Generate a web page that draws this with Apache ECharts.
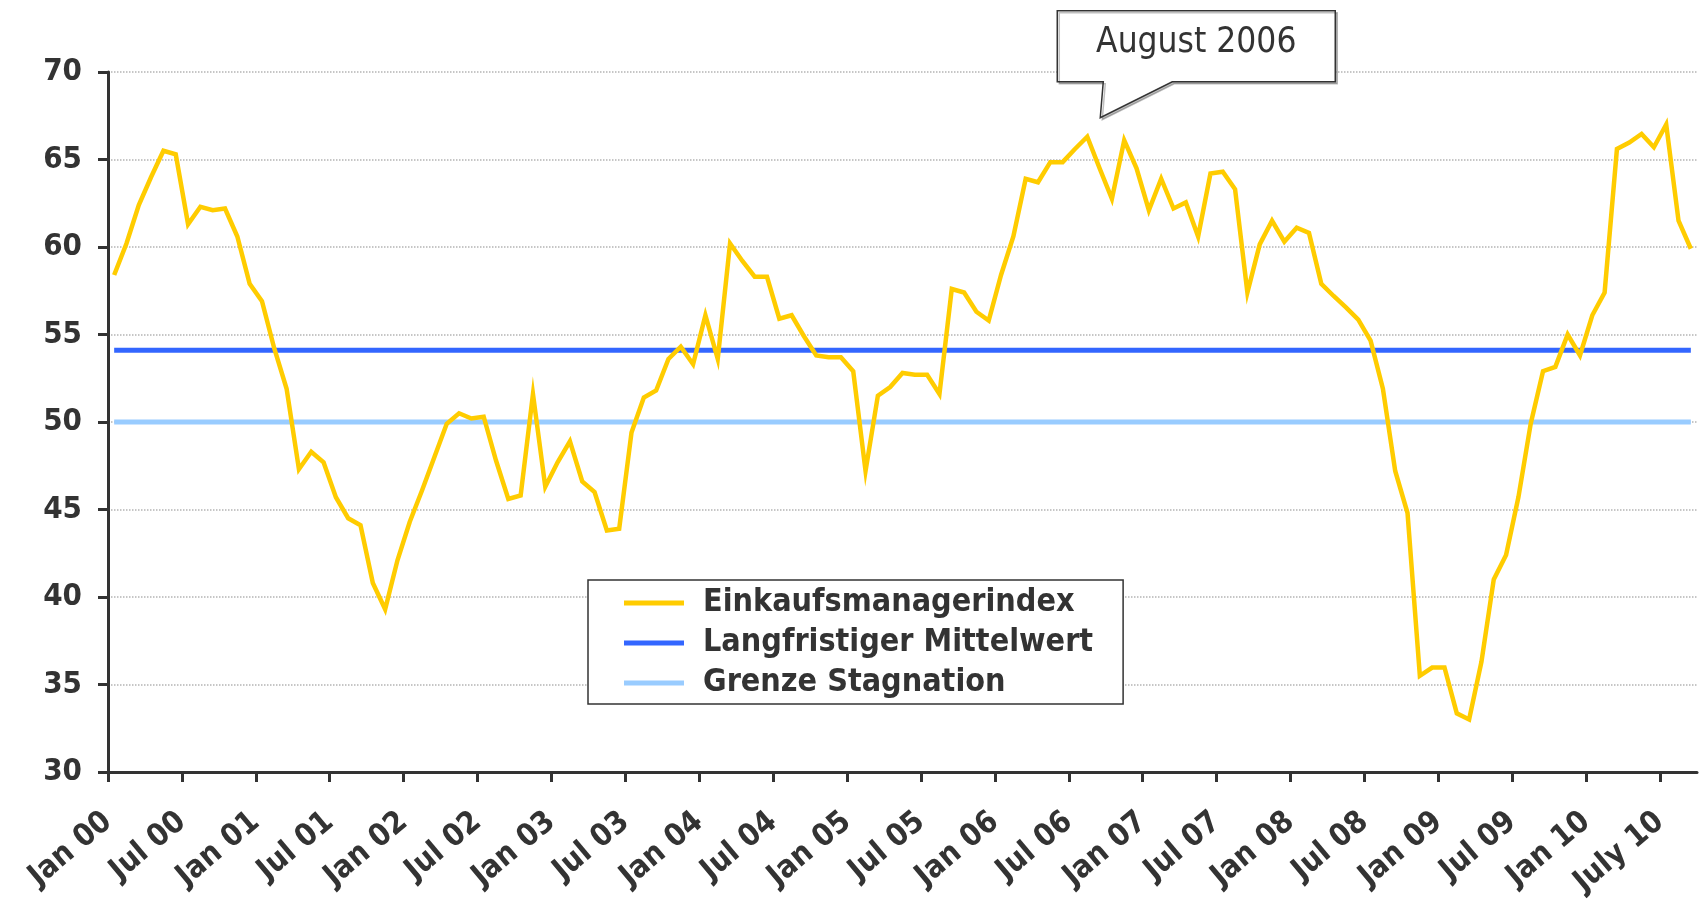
<!DOCTYPE html>
<html>
<head>
<meta charset="utf-8">
<script src="https://cdn.jsdelivr.net/npm/echarts@6/dist/echarts.min.js"></script>
<style>
  html, body { margin: 0; padding: 0; background: #fff; }
  #chart { width: 1704px; height: 903px; }
</style>
</head>
<body>
<div id="chart"></div>
<script>
// Einkaufsmanagerindex, monatlich Jan 2000 - Sep 2010
const pmiValues = [
  58.4, 60.2, 62.4, 64.0, 65.5, 65.3, 61.3, 62.3, 62.1, 62.2, 60.6, 57.9,
  56.9, 54.2, 51.9, 47.3, 48.3, 47.7, 45.7, 44.5, 44.1, 40.8, 39.3, 42.1,
  44.3, 46.1, 48.0, 49.9, 50.5, 50.2, 50.3, 47.8, 45.6, 45.8, 51.6, 46.3,
  47.7, 48.9, 46.6, 46.0, 43.8, 43.9, 49.4, 51.4, 51.8, 53.6, 54.3, 53.3,
  56.1, 53.6, 60.2, 59.2, 58.3, 58.3, 55.9, 56.1, 54.9, 53.8, 53.7, 53.7,
  52.9, 47.2, 51.5, 52.0, 52.8, 52.7, 52.7, 51.6, 57.6, 57.4, 56.3, 55.8,
  58.4, 60.6, 63.9, 63.7, 64.85, 64.85, 65.6, 66.3, 64.5, 62.75, 66.1, 64.5,
  62.1, 63.9, 62.2, 62.55, 60.6, 64.2, 64.3, 63.3, 57.4, 60.15, 61.5, 60.3,
  61.1, 60.8, 57.9, 57.2, 56.55, 55.85, 54.65, 51.9, 47.2, 44.8, 35.5, 35.97,
  35.97, 33.35, 33.0, 36.3, 41.0, 42.4, 45.7, 49.9, 52.9, 53.15, 55.0, 53.8,
  56.1, 57.4, 65.6, 65.97, 66.46, 65.7, 67.0, 61.5, 59.9
]
const meanLevel = 54.1      // Langfristiger Mittelwert
const stagnationLevel = 50  // Grenze Stagnation
const tickLabels = [
  'Jan 00', 'Jul 00', 'Jan 01', 'Jul 01', 'Jan 02', 'Jul 02', 'Jan 03', 'Jul 03',
  'Jan 04', 'Jul 04', 'Jan 05', 'Jul 05', 'Jan 06', 'Jul 06', 'Jan 07', 'Jul 07',
  'Jan 08', 'Jul 08', 'Jan 09', 'Jul 09', 'Jan 10', 'July 10'
]
const yTicks = [30, 35, 40, 45, 50, 55, 60, 65, 70]

const monthNames = ['Jan', 'Feb', 'Mar', 'Apr', 'May', 'Jun', 'Jul', 'Aug', 'Sep', 'Oct', 'Nov', 'Dec']
const months = pmiValues.map((v, i) => monthNames[i % 12] + ' ' + String(Math.floor(i / 12)).padStart(2, '0'))
const firstMonth = months[0]
const lastMonth = months[months.length - 1]

const FONT = "'DejaVu Sans Condensed', 'DejaVu Sans', sans-serif"
const DARK = '#333333'

const chart = echarts.init(document.getElementById('chart'))

const option = {
  animation: false,
  backgroundColor: '#ffffff',
  grid: { left: 108, right: 7, top: 72, bottom: 131, containLabel: false, outerBoundsMode: 'none' },
  legend: {
    orient: 'vertical',
    left: 588,
    top: 580,
    padding: [3, 30, 1, 36],
    itemGap: 0,
    itemWidth: 60,
    itemHeight: 5,
    icon: 'rect',
    borderColor: DARK,
    borderWidth: 1.5,
    backgroundColor: '#fff',
    textStyle: { fontFamily: FONT, fontSize: 32, fontWeight: 'bold', color: DARK, lineHeight: 40, padding: [0, 0, 0, 14] },
    data: ['Einkaufsmanagerindex', 'Langfristiger Mittelwert', 'Grenze Stagnation']
  },
  xAxis: [
    {
      type: 'category',
      data: months,
      boundaryGap: true,
      axisLine: { show: true, lineStyle: { color: DARK, width: 3 } },
      axisTick: { show: false },
      axisLabel: { show: false },
      splitLine: { show: false }
    },
    {
      // Beschriftung an den Monatsgrenzen, alle 6 Monate
      type: 'value',
      position: 'bottom',
      min: 0,
      max: months.length,
      axisLine: { show: false },
      axisTick: {
        show: true,
        length: 10,
        lineStyle: { color: DARK, width: 3 },
        customValues: tickLabels.map((t, i) => i * 6)
      },
      axisLabel: {
        show: true,
        rotate: 40,
        margin: 46,
        fontFamily: FONT,
        fontSize: 31,
        fontWeight: 'bold',
        color: DARK,
        customValues: tickLabels.map((t, i) => i * 6),
        formatter: v => tickLabels[Math.round(v / 6)] || ''
      },
      splitLine: { show: false }
    }
  ],
  yAxis: {
    type: 'value',
    min: yTicks[0],
    max: yTicks[yTicks.length - 1],
    interval: 5,
    axisLine: { show: true, lineStyle: { color: DARK, width: 3 } },
    axisTick: { show: true, length: 10, lineStyle: { color: DARK, width: 3 } },
    axisLabel: { margin: 26, fontFamily: FONT, fontSize: 31, fontWeight: 'bold', color: DARK },
    splitLine: { show: true, lineStyle: { color: '#b4b4b4', width: 1.5, type: 'dotted' } }
  },
  series: [
    {
      name: 'Grenze Stagnation',
      type: 'line',
      xAxisIndex: 0,
      data: [[firstMonth, stagnationLevel], [lastMonth, stagnationLevel]],
      showSymbol: false,
      symbol: 'none',
      color: '#99ccff',
      lineStyle: { color: '#99ccff', width: 5 },
      z: 2
    },
    {
      name: 'Langfristiger Mittelwert',
      type: 'line',
      xAxisIndex: 0,
      data: [[firstMonth, meanLevel], [lastMonth, meanLevel]],
      showSymbol: false,
      symbol: 'none',
      color: '#3366ff',
      lineStyle: { color: '#3366ff', width: 5 },
      z: 3
    },
    {
      name: 'Einkaufsmanagerindex',
      type: 'line',
      xAxisIndex: 0,
      data: pmiValues,
      showSymbol: false,
      symbol: 'none',
      color: '#ffcc00',
      lineStyle: { color: '#ffcc00', width: 4.5, join: 'miter' },
      z: 4
    }
  ]
}
chart.setOption(option)

// Sprechblase "August 2006" am Datenpunkt verankern
const peak = chart.convertToPixel({ xAxisIndex: 0, yAxisIndex: 0 }, ['Aug 06', 66.3])
const tipX = peak[0] + 13
const tipY = peak[1] - 19
const boxL = tipX - 43, boxR = tipX + 235, boxT = tipY - 107, boxB = tipY - 36
chart.setOption({
  graphic: [
    {
      type: 'polygon',
      shape: {
        points: [
          [boxL, boxT], [boxR, boxT], [boxR, boxB], [tipX + 72, boxB],
          [tipX, tipY], [tipX + 3, boxB], [boxL, boxB]
        ]
      },
      style: { fill: '#fff', stroke: DARK, lineWidth: 1.5, shadowColor: 'rgba(0,0,0,0.25)', shadowOffsetX: 2, shadowOffsetY: 2 },
      z: 100
    },
    {
      type: 'text',
      x: (boxL + boxR) / 2,
      y: (boxT + boxB) / 2 - 3,
      style: {
        text: 'August 2006',
        fontFamily: FONT,
        fontSize: 35,
        fill: DARK,
        align: 'center',
        verticalAlign: 'middle'
      },
      z: 101
    }
  ]
})
</script>
</body>
</html>
